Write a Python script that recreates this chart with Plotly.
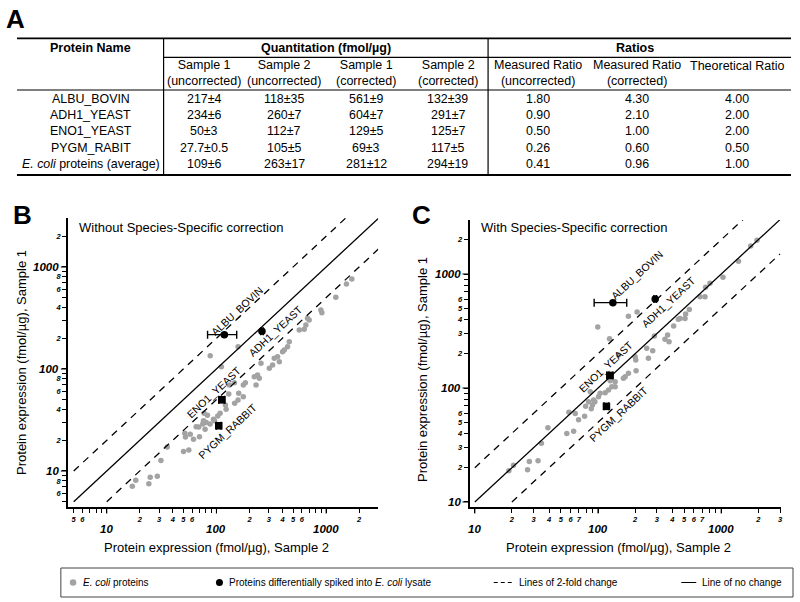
import numpy as np
import plotly.graph_objects as go

FONT = "Liberation Sans, Arial, sans-serif"
W, H = 800, 602

# ---------------- Table (panel A) data ----------------
table_names = ["ALBU_BOVIN", "ADH1_YEAST", "ENO1_YEAST", "PYGM_RABIT",
               "<i>E. coli</i> proteins (average)"]
s1_unc = [217, 234, 50, 27.7]
s1_unc_err = [4, 6, 3, 0.5]
s2_unc = [118, 260, 112, 105]
s2_unc_err = [35, 7, 7, 5]
s1_cor = [561, 604, 129, 69]
s1_cor_err = [9, 7, 5, 3]
s2_cor = [132, 291, 125, 117]
s2_cor_err = [39, 7, 7, 5]
ecoli_avg = [109, 263, 281, 294]
ecoli_avg_err = [6, 17, 12, 19]
ratio_meas_unc = [1.80, 0.90, 0.50, 0.26, 0.41]
ratio_meas_cor = [4.30, 2.10, 1.00, 0.60, 0.96]
ratio_theo = [4.00, 2.00, 2.00, 0.50, 1.00]
col_headers = ["Sample 1<br>(uncorrected)", "Sample 2<br>(uncorrected)",
               "Sample 1<br>(corrected)", "Sample 2<br>(corrected)",
               "Measured Ratio<br>(uncorrected)", "Measured Ratio<br>(corrected)",
               "Theoretical Ratio"]

# ---------------- Scatter data ----------------
spike_labels = ["ALBU_BOVIN", "ADH1_YEAST", "ENO1_YEAST", "PYGM_RABBIT"]
spike_symbols = ["circle", "circle", "square", "square"]

# Panel B: E. coli proteins, uncorrected (x = Sample 2, y = Sample 1)
b_ecoli_x = [17.1, 18.4, 24.2, 24.9, 28.9, 31.2, 35.6, 50.1, 56.0, 51.5, 52.2, 57.7,
             61.8, 70.0, 69.0, 75.0, 77.2, 82.8, 76.2, 80.6, 87.6, 95.9, 102.8, 108,
             122.5, 120.7, 78.8, 65.3, 93.9, 146.6, 157.4, 175.8, 183.5, 131.2, 145.8,
             159.6, 175.8, 129.4, 229.6, 221.3, 237, 245.9, 254.7, 303.4, 325, 336.6,
             360.8, 374, 400.7, 415, 444.8, 461, 568.5, 631, 653, 700, 676, 895, 914,
             1225, 1531, 1714, 87.7, 157.4, 111]
b_ecoli_y = [7.1, 8.1, 7.5, 8.7, 8.9, 12.7, 17.2, 15.5, 16.1, 23.4, 21.5, 22.9,
             20.5, 21.7, 27.0, 28.9, 36.8, 35.2, 31.1, 29.8, 28.9, 31.1, 34.6, 36.8,
             40.3, 44.4, 25.6, 27.2, 32.1, 46.1, 49.7, 69.7, 73.4, 69.7, 73.4,
             57.8, 53.5, 56.9, 69.7, 84.1, 87.4, 81.1, 113.8, 101.6, 109.5, 127.3,
             132, 118, 147.9, 153.6, 165.5, 185.4, 241, 245, 270, 302, 314, 378, 356,
             505, 681, 762, 135, 165.5, 105]

# Panel C: E. coli proteins, corrected
c_ecoli_x = [18.9, 20.6, 26.8, 27.7, 32.6, 34.7, 39.2, 55.8, 63.4, 58.0, 65.3, 69.5,
             77.8, 79.3, 88.1, 90.2, 94.3, 86.5, 100.9, 114.3, 121.6, 129.4, 125.6,
             99.5, 124, 176.5, 207.6, 146.6, 200, 202.4, 166, 176.6, 203.7, 160.7,
             248.3, 256.4, 277.8, 286.7, 349.7, 367, 377, 411, 448.7, 463.3, 514, 508,
             550.5, 672.5, 738, 746.7, 810, 1033, 1380, 1734, 1950, 92.1, 83.8, 104,
             137.7, 137.7]
c_ecoli_y = [18.8, 21.0, 19.2, 22.7, 23.0, 32.7, 44.8, 39.8, 41.8, 61.4, 59.6, 52.7,
             56.4, 69.2, 65.6, 71.0, 75.7, 92.9, 83.9, 91.0, 96.0, 102.6, 115.8,
             343, 270, 426, 464, 194.5, 188.4, 176.2, 125.6, 134.6, 142, 121.6,
             223, 182.3, 212.3, 285.9, 267.3, 291.6, 254.7, 350, 400.7, 408, 445.8, 408,
             489.5, 632, 632, 764, 828, 935, 1294, 1762, 1974, 78.5, 75.9, 90,
             113.5, 102.6]

# Reference lines (no change, 2-fold up, 2-fold down)
b_same_x, b_same_y = [5, 3000], [5, 3000]
b_up_x, b_up_y = [5, 1500], [10, 3000]
b_dn_x, b_dn_y = [10, 3000], [5, 1500]
c_same_x, c_same_y = [10, 3000], [10, 3000]
c_up_x, c_up_y = [10, 1500], [20, 3000]
c_dn_x, c_dn_y = [20, 3000], [10, 1500]

# Tick labels
b_x_ticks = [5, 6, 7, 8, 9, 10, 20, 30, 40, 50, 60, 70, 80, 90, 100,
             200, 300, 400, 500, 600, 700, 800, 900, 1000, 2000, 3000]
b_x_text = ["5", "6", "", "", "", "", "2", "3", "4", "5", "6", "", "", "", "",
            "2", "3", "4", "5", "6", "", "", "", "", "2", "3"]
b_y_ticks = [5, 6, 7, 8, 9, 10, 20, 30, 40, 50, 60, 70, 80, 90, 100,
             200, 300, 400, 500, 600, 700, 800, 900, 1000, 2000]
b_y_text = ["", "6", "", "8", "", "", "2", "", "4", "", "6", "", "8", "", "",
            "2", "", "4", "", "6", "", "8", "", "", "2"]
c_x_ticks = [10, 20, 30, 40, 50, 60, 70, 80, 90, 100,
             200, 300, 400, 500, 600, 700, 800, 900, 1000, 2000, 3000]
c_x_text = ["", "2", "3", "4", "5", "6", "7", "", "", "",
            "2", "3", "4", "5", "6", "7", "", "", "", "2", "3"]
c_y_ticks = [10, 20, 30, 40, 50, 60, 70, 80, 90, 100,
             200, 300, 400, 500, 600, 700, 800, 900, 1000, 2000, 3000]
c_y_text = ["", "2", "3", "4", "5", "6", "", "", "", "",
            "2", "3", "4", "5", "6", "", "", "", "", "2", "3"]
decades = [10, 100, 1000]
decade_text = ["10", "100", "1000"]

# -------------------------------------------------------------
def px(x):
    return x / W


def py(y):
    return 1 - y / H


def bi(t):
    return f"<b><i>{t}</i></b>" if t else ""


fig = go.Figure()
annotations = []
shapes = []


def ann(text, x, y, size=12, xanchor="center", yanchor="middle", xref="paper",
        yref="paper", angle=0, color="black"):
    annotations.append(dict(text=text, x=x, y=y, xref=xref, yref=yref,
                            xanchor=xanchor, yanchor=yanchor, showarrow=False,
                            textangle=angle, borderpad=0,
                            font=dict(family=FONT, size=size, color=color)))


def hline(x0, x1, y, w=1.2, color="black", dash="solid"):
    shapes.append(dict(type="line", xref="paper", yref="paper", x0=px(x0), x1=px(x1),
                       y0=py(y), y1=py(y), line=dict(color=color, width=w, dash=dash)))


def vline(x, y0, y1, w=1.2):
    shapes.append(dict(type="line", xref="paper", yref="paper", x0=px(x), x1=px(x),
                       y0=py(y0), y1=py(y1), line=dict(color="black", width=w)))


# ---------------- Panel A : table ----------------
ann("<b>A</b>", px(16), py(18.5), size=26)
hline(17, 793, 38.3, w=1.8)
hline(164, 793, 57.3)
hline(17, 793, 90)
hline(17, 793, 175, w=1.8)
vline(164, 38.3, 175)
vline(489.3, 38.3, 175)

col_x = [205, 285, 367, 449, 539, 639, 739]
name_x = 91
row_y = [98.7, 115, 131.3, 147.7, 164]

ann("<b>Protein Name</b>", px(name_x), py(48), size=12.5)
ann("<b>Quantitation (fmol/µg)</b>", px(326.5), py(48), size=12.5)
ann("<b>Ratios</b>", px(637), py(48), size=12.5)
for i, h in enumerate(col_headers):
    if "<br>" in h:
        ann(h, px(col_x[i]), py(73.3), size=12.5)
    else:
        ann(h, px(col_x[i]), py(65.7), size=12.5)


def fmt(v, e):
    return f"{v:g}±{e:g}"


quant_cols = [
    [fmt(v, e) for v, e in zip(s1_unc, s1_unc_err)] + [fmt(ecoli_avg[0], ecoli_avg_err[0])],
    [fmt(v, e) for v, e in zip(s2_unc, s2_unc_err)] + [fmt(ecoli_avg[1], ecoli_avg_err[1])],
    [fmt(v, e) for v, e in zip(s1_cor, s1_cor_err)] + [fmt(ecoli_avg[2], ecoli_avg_err[2])],
    [fmt(v, e) for v, e in zip(s2_cor, s2_cor_err)] + [fmt(ecoli_avg[3], ecoli_avg_err[3])],
]
ratio_cols = [[f"{v:.2f}" for v in r] for r in (ratio_meas_unc, ratio_meas_cor, ratio_theo)]
all_cols = quant_cols + ratio_cols
for r, name in enumerate(table_names):
    ann(name, px(name_x), py(row_y[r]), size=12.4)
    for c, col in enumerate(all_cols):
        ann(col[r], px(col_x[c]), py(row_y[r]), size=12.4)

# ---------------- Panels B and C ----------------
GREY = "#a3a3a3"
line_style = dict(color="black", width=1.3)
dash_style = dict(color="black", width=1.3, dash="7px,6px")

panels = [
    dict(xa="x", ya="y", ex=b_ecoli_x, ey=b_ecoli_y, sx=s2_unc, sxe=s2_unc_err,
         sy=s1_unc, sye=s1_unc_err,
         lines=[(b_same_x, b_same_y, line_style), (b_up_x, b_up_y, dash_style),
                (b_dn_x, b_dn_y, dash_style)]),
    dict(xa="x2", ya="y2", ex=c_ecoli_x, ey=c_ecoli_y, sx=s2_cor, sxe=s2_cor_err,
         sy=s1_cor, sye=s1_cor_err,
         lines=[(c_same_x, c_same_y, line_style), (c_up_x, c_up_y, dash_style),
                (c_dn_x, c_dn_y, dash_style)]),
]
for p in panels:
    fig.add_trace(go.Scatter(x=p["ex"], y=p["ey"], mode="markers", xaxis=p["xa"], yaxis=p["ya"],
                             marker=dict(color=GREY, size=5.5), hoverinfo="x+y"))
    for lx, ly, st in p["lines"]:
        fig.add_trace(go.Scatter(x=lx, y=ly, mode="lines", xaxis=p["xa"], yaxis=p["ya"],
                                 line=st, hoverinfo="skip"))
    fig.add_trace(go.Scatter(
        x=p["sx"], y=p["sy"], mode="markers", xaxis=p["xa"], yaxis=p["ya"],
        text=spike_labels, hoverinfo="text+x+y",
        marker=dict(color="black", size=7.5, symbol=spike_symbols),
        error_x=dict(type="data", array=p["sxe"], color="black", thickness=1.4, width=4),
        error_y=dict(type="data", array=p["sye"], color="black", thickness=1.4, width=3),
    ))

# Axes
b_xdom = [68 / W, 379 / W]
b_ydom = [1 - 507 / H, 1 - 218 / H]
c_xdom = [470.7 / W, 782.7 / W]
c_ydom = [1 - 507 / H, 1 - 220 / H]

axis_common = dict(type="log", showline=True, linecolor="black", linewidth=1.5,
                   ticks="outside", ticklen=4, tickwidth=1.1, tickcolor="black",
                   showgrid=False, zeroline=False, tickangle=0, tickmode="array",
                   tickfont=dict(family=FONT, size=7.5, color="black"))

fig.update_layout(
    xaxis=dict(axis_common, domain=b_xdom, range=[np.log10(4.42), 3.473], anchor="y",
               tickvals=b_x_ticks, ticktext=[bi(t) for t in b_x_text]),
    yaxis=dict(axis_common, domain=b_ydom, range=[0.647, 3.48], anchor="x",
               tickvals=b_y_ticks, ticktext=[bi(t) for t in b_y_text]),
    xaxis2=dict(axis_common, domain=c_xdom, range=[0.957, 3.483], anchor="y2",
                tickvals=c_x_ticks, ticktext=[bi(t) for t in c_x_text]),
    yaxis2=dict(axis_common, domain=c_ydom, range=[0.956, 3.474], anchor="x2",
                tickvals=c_y_ticks, ticktext=[bi(t) for t in c_y_text]),
)

# Decade labels and longer decade ticks
for xref, yref, xdom, ydom in [("x", "y", b_xdom, b_ydom), ("x2", "y2", c_xdom, c_ydom)]:
    x_axis_px = (1 - ydom[0]) * H
    y_axis_px = xdom[0] * W
    for v, t in zip(decades, decade_text):
        ann(bi(t), np.log10(v), py(x_axis_px + 21.5), size=11.5, xref=xref)
        ann(bi(t), px(y_axis_px - 8), np.log10(v), size=11.5, xanchor="right", yref=yref)
        shapes.append(dict(type="line", xref=xref, yref="paper", x0=v, x1=v,
                           y0=py(x_axis_px), y1=py(x_axis_px + 6.5),
                           line=dict(color="black", width=1.1)))
        shapes.append(dict(type="line", xref="paper", yref=yref, x0=px(y_axis_px - 7),
                           x1=px(y_axis_px), y0=v, y1=v,
                           line=dict(color="black", width=1.1)))

# Panel letters and titles
ann("<b>B</b>", px(22.5), py(215), size=26)
ann("<b>C</b>", px(422.5), py(215), size=26)
ann("Without Species-Specific correction", px(78), py(227.5), size=13, xanchor="left")
ann("With Species-Specific correction", px(481.7), py(227.5), size=13, xanchor="left")

# Axis titles
ann("Protein expression (fmol/µg), Sample 2", px(217.5), py(547), size=13)
ann("Protein expression (fmol/µg), Sample 2", px(620.5), py(547), size=13)
ann("Protein expression (fmol/µg), Sample 1", px(21), py(362), size=13, angle=-90)
ann("Protein expression (fmol/µg), Sample 1", px(423), py(369), size=13, angle=-90)

# Protein labels along the diagonal
b_label_pos = [(153.5, 370), (343, 237), (94.8, 59.6), (126, 24.7)]
c_label_pos = [(206, 980), (372, 571), (114, 154), (146.6, 59.2)]
for (lx, ly), name in zip(b_label_pos, spike_labels):
    ann(name, np.log10(lx), np.log10(ly), size=10.5, xref="x", yref="y", angle=-43)
for (lx, ly), name in zip(c_label_pos, spike_labels):
    ann(name, np.log10(lx), np.log10(ly), size=10.5, xref="x2", yref="y2", angle=-43)

# ---------------- Legend box ----------------
shapes.append(dict(type="rect", xref="paper", yref="paper", x0=px(61), x1=px(795),
                   y0=py(568), y1=py(597), line=dict(color="#444444", width=1)))
ly_ = 582.5
shapes.append(dict(type="circle", xref="paper", yref="paper", x0=px(70), x1=px(76.5),
                   y0=py(ly_ - 3.2), y1=py(ly_ + 3.2), fillcolor=GREY, line=dict(width=0)))
ann("<i>E. coli</i> proteins", px(82), py(ly_), size=10, xanchor="left")
shapes.append(dict(type="circle", xref="paper", yref="paper", x0=px(216.5), x1=px(223.5),
                   y0=py(ly_ - 3.5), y1=py(ly_ + 3.5), fillcolor="black", line=dict(width=0)))
ann("Proteins differentially spiked into <i>E. coli</i> lysate", px(229), py(ly_), size=10,
    xanchor="left")
hline(495, 515, ly_, w=1, dash="4px,3px")
ann("Lines of 2-fold change", px(519), py(ly_), size=10, xanchor="left")
hline(683, 698, ly_, w=1)
ann("Line of no change", px(703), py(ly_), size=10, xanchor="left")

fig.update_layout(
    width=W, height=H, margin=dict(l=0, r=0, t=0, b=0),
    paper_bgcolor="white", plot_bgcolor="white", showlegend=False,
    font=dict(family=FONT, color="black"),
    annotations=annotations, shapes=shapes,
)

fig.write_html("out.html", config={"displayModeBar": False},
               post_script="document.body.style.margin='0px';document.body.style.padding='0px';")
